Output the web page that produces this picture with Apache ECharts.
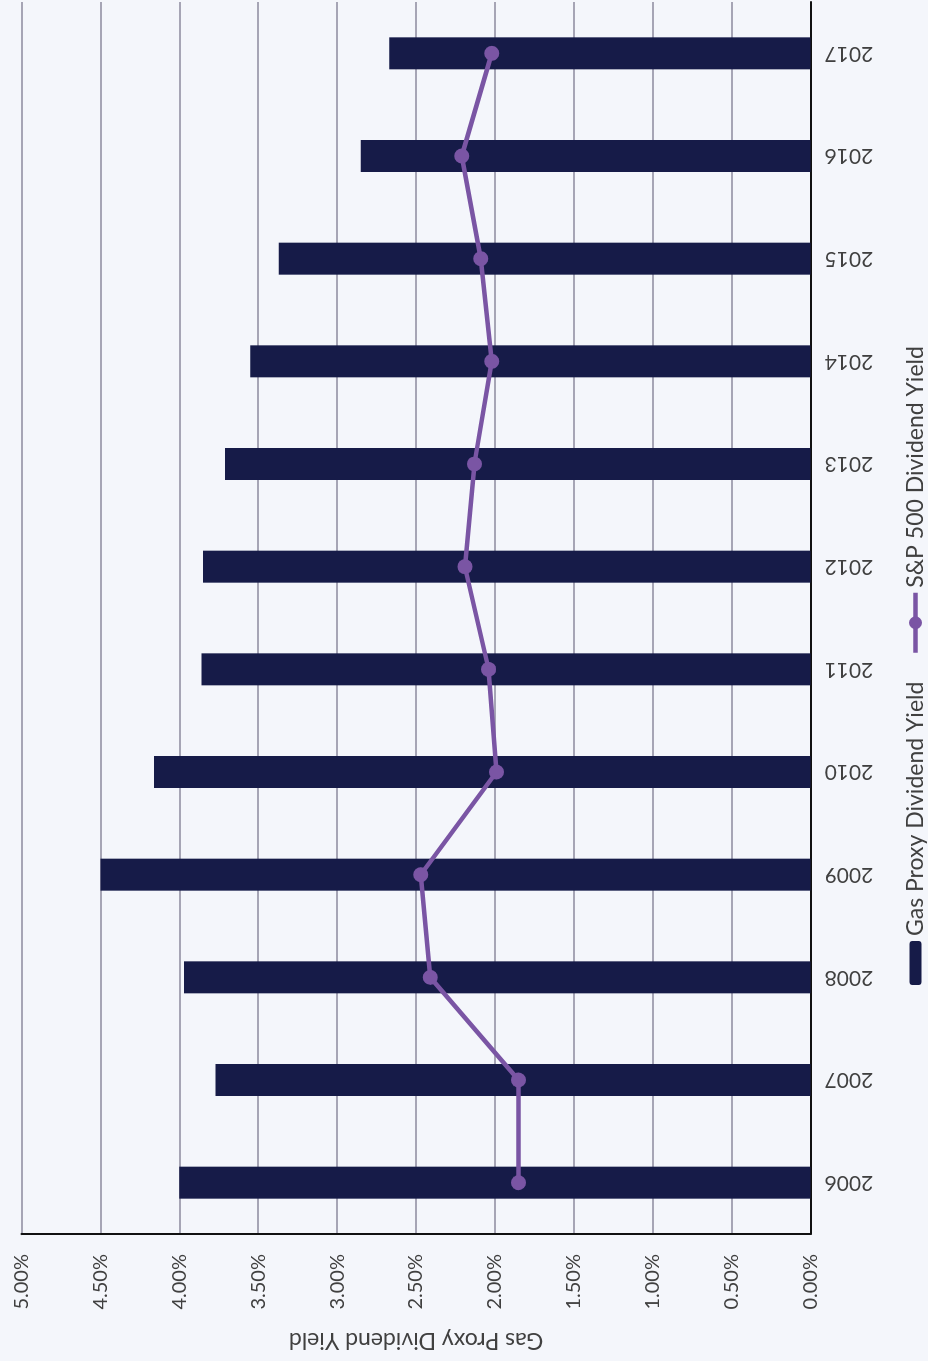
<!DOCTYPE html>
<html>
<head>
<meta charset="utf-8">
<script src="https://cdn.jsdelivr.net/npm/echarts@6/dist/echarts.min.js"></script>
<style>
  html, body { margin: 0; padding: 0; width: 928px; height: 1361px; overflow: hidden; background: #f4f6fb; }
  /* The column chart is laid out landscape and turned a quarter turn counter-clockwise onto the page */
  #chart {
    position: absolute; left: 0; top: 0;
    width: 1361px; height: 928px;
    transform-origin: 0 0;
    transform: translateY(1361px) rotate(-90deg);
  }
</style>
</head>
<body>
<div id="chart"></div>
<script>
// Years on the category axis
const years = ['2006', '2007', '2008', '2009', '2010', '2011', '2012', '2013', '2014', '2015', '2016', '2017'];
// Dividend yields, in percent
const gasProxyYield = [4.00, 3.77, 3.97, 4.50, 4.16, 3.86, 3.85, 3.71, 3.55, 3.37, 2.85, 2.67];
const sp500Yield = [1.85, 1.85, 2.41, 2.47, 1.99, 2.04, 2.19, 2.13, 2.02, 2.09, 2.21, 2.02];
// Value axis range and step, in percent
const yMin = 0, yMax = 5, yStep = 0.5;

const FONT = 'Lato, "Open Sans", sans-serif';
const TEXT = '#404040';
const BAR_COLOR = '#161b48';
const LINE_COLOR = '#7a55a4';

const chart = echarts.init(document.getElementById('chart'), null, { renderer: 'canvas' });
chart.setOption({
  backgroundColor: '#f4f6fb',
  animation: false,
  textStyle: { fontFamily: FONT, color: TEXT },
  grid: { left: 127, right: 2, top: 21.5, bottom: 117.5, containLabel: false },
  legend: [
    {
      data: ['Gas Proxy Dividend Yield'],
      left: 371, top: 899,
      itemWidth: 44, itemHeight: 12, itemGap: 10,
      textStyle: { fontFamily: FONT, fontSize: 23, color: TEXT }
    },
    {
      data: ['S&P 500 Dividend Yield'],
      left: 701, top: 899,
      itemWidth: 60, itemHeight: 16, itemGap: 10,
      lineStyle: { width: 4.5, color: LINE_COLOR },
      textStyle: { fontFamily: FONT, fontSize: 23, color: TEXT }
    }
  ],
  xAxis: {
    type: 'category',
    data: years,
    boundaryGap: true,
    axisLine: { show: true, lineStyle: { color: '#111111', width: 2 } },
    axisTick: { show: false },
    axisLabel: { rotate: 90, margin: 14, fontFamily: FONT, fontSize: 21, color: TEXT },
    splitLine: { show: false }
  },
  yAxis: {
    type: 'value',
    min: yMin, max: yMax, interval: yStep,
    name: 'Gas Proxy Dividend Yield',
    nameLocation: 'middle',
    nameGap: 95,
    nameTextStyle: { fontFamily: FONT, fontSize: 23, color: TEXT },
    axisLine: { show: true, lineStyle: { color: '#111111', width: 2 } },
    axisTick: { show: false },
    axisLabel: {
      margin: 20, fontFamily: FONT, fontSize: 20, color: TEXT,
      formatter: v => v.toFixed(2) + '%'
    },
    splitLine: { show: true, lineStyle: { color: '#8c8a9e', width: 1.5 } }
  },
  series: [
    {
      name: 'Gas Proxy Dividend Yield',
      type: 'bar',
      data: gasProxyYield,
      barWidth: 32,
      itemStyle: { color: BAR_COLOR }
    },
    {
      name: 'S&P 500 Dividend Yield',
      type: 'line',
      data: sp500Yield,
      symbol: 'circle',
      symbolSize: 15,
      lineStyle: { color: LINE_COLOR, width: 4.5 },
      itemStyle: { color: LINE_COLOR },
      z: 3
    }
  ]
});
</script>
</body>
</html>
